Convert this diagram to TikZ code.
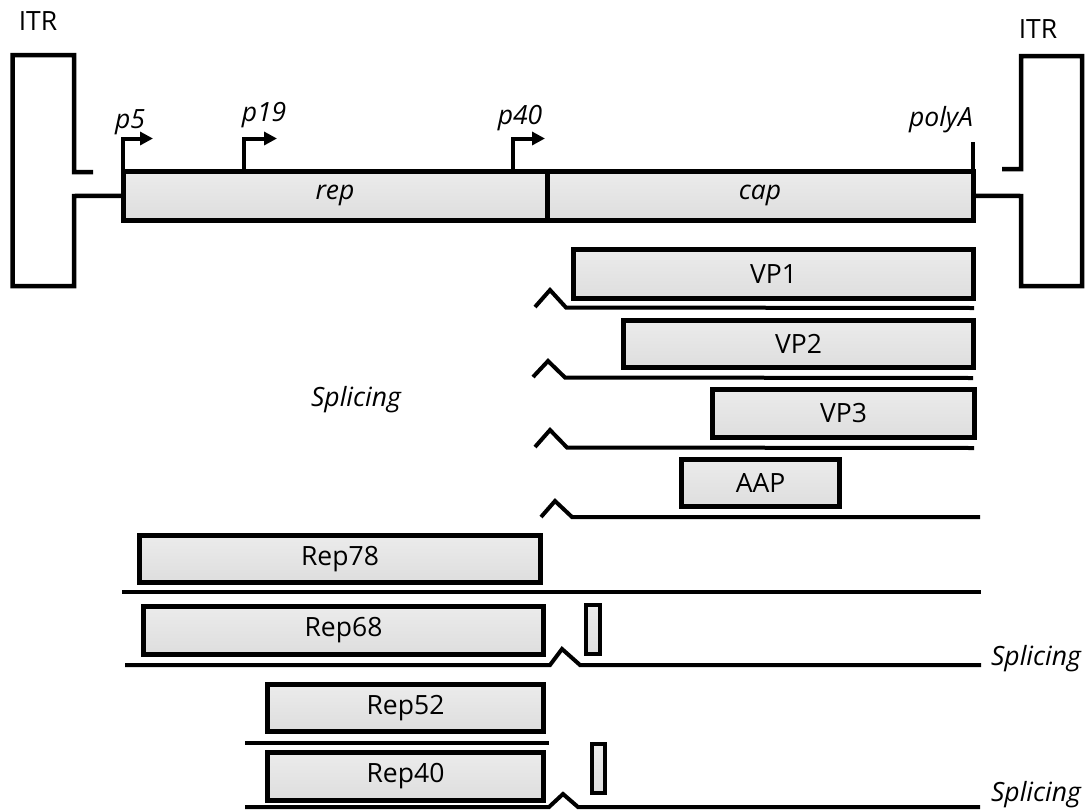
\documentclass[tikz,border=0pt]{standalone}
\usepackage{fontspec}
\setmainfont{Open Sans}
\usetikzlibrary{arrows.meta}
\pgfdeclareverticalshading{boxshade}{100bp}{color(0bp)=(black!14); color(9bp)=(black!30); color(26bp)=(black!13); color(100bp)=(black!5)}
\newcommand\fsz{\fontsize{26.5}{32}\selectfont}
\tikzset{
  gbox/.style={draw=black, line width=5pt, shading=boxshade, inner sep=0pt, outer sep=0pt, font=\fsz},
  slim/.style={draw=black, line width=4pt, shading=boxshade, inner sep=0pt, outer sep=0pt},
  ln/.style={line width=4pt, line join=miter},
  itr/.style={line width=4.5pt, line join=miter},
  prom/.style={line width=4pt, -{Triangle[length=13pt,width=13pt]}},
  lbl/.style={font=\fsz, inner sep=0pt},
  ilbl/.style={font=\fsz\itshape, inner sep=0pt},
}
\begin{document}
\begin{tikzpicture}[x=1pt,y=-1pt]
\useasboundingbox (0,0) rectangle (1090,809);
% main construct
\node[gbox, minimum width=424pt, minimum height=49.5pt, font=\fsz\itshape] (rep) at (335,195.75) {rep};
\node[gbox, minimum width=426pt, minimum height=49.5pt, font=\fsz\itshape] (cap) at (760,195.75) {cap};
% ITRs
\node[lbl] (itrL) at (38,21) {ITR};
\node[lbl] (itrR) at (1038,29) {ITR};
\draw[itr] (93,172) -- (74,172) -- (74,55) -- (12.5,55) -- (12.5,286) -- (74,286) -- (74,196) -- (rep.west);
\draw[itr] (1002,169) -- (1021,169) -- (1021,56) -- (1082,56) -- (1082,286) -- (1021,286) -- (1021,196) -- (cap.east);
% promoters
\coordinate (p5s) at (122.5,171);
\coordinate (p5e) at (153,138.5);
\coordinate (p19s) at (244,171);
\coordinate (p19e) at (277,138.5);
\coordinate (p40s) at (513,171);
\coordinate (p40e) at (545,138.5);
\coordinate (pA) at (973,142);
\draw[prom] (p5s) |- (p5e);
\draw[prom] (p19s) |- (p19e);
\draw[prom] (p40s) |- (p40e);
\draw[ln] (cap.north east) -- (pA);
\node[ilbl] (lp5) at (130,122) {p5};
\node[ilbl] (lp19) at (264,115) {p19};
\node[ilbl] (lp40) at (520,118) {p40};
\node[ilbl] (lpA) at (941,120) {polyA};
% capsid transcripts
\node[gbox, minimum width=400pt, minimum height=49pt] (vp1) at (773.5,274) {VP1};
\node[gbox, minimum width=350pt, minimum height=47pt] (vp2) at (798.5,344) {VP2};
\node[gbox, minimum width=262pt, minimum height=48pt] (vp3) at (843.5,413.5) {VP3};
\node[gbox, minimum width=158pt, minimum height=47pt] (aap) at (760.5,483) {AAP};
\coordinate (t1a) at (535,307); \coordinate (t1b) at (974,308);
\coordinate (t2a) at (533,377); \coordinate (t2b) at (973,378);
\coordinate (t3a) at (535,447); \coordinate (t3b) at (974,448);
\coordinate (t4a) at (541,517); \coordinate (t4b) at (980,517);
\draw[ln] (t1a) -- (550,290) -- (566,307.5) -- (t1b);
\draw[ln] (t2a) -- (548,361) -- (565,377.5) -- (t2b);
\draw[ln] (t3a) -- (550,430) -- (567,447.5) -- (t3b);
\draw[ln] (t4a) -- (555,501) -- (572,517) -- (t4b);
\node[ilbl] (spl1) at (356,400) {Splicing};
% rep transcripts
\node[gbox, minimum width=401pt, minimum height=47pt] (rep78) at (340,559) {Rep78};
\node[gbox, minimum width=400pt, minimum height=48pt] (rep68) at (343.5,630.5) {Rep68};
\node[slim, minimum width=14pt, minimum height=49pt] (ex68) at (593,629.5) {};
\node[gbox, minimum width=276pt, minimum height=47pt] (rep52) at (405.5,708) {Rep52};
\node[gbox, minimum width=276pt, minimum height=48pt] (rep40) at (405.5,776.5) {Rep40};
\node[slim, minimum width=13pt, minimum height=49pt] (ex40) at (598.5,768.5) {};
\coordinate (r78a) at (122,592); \coordinate (r78b) at (981,592);
\coordinate (r68a) at (125,665); \coordinate (r68b) at (981,665);
\coordinate (r52a) at (245,743); \coordinate (r52b) at (549,743);
\coordinate (r40a) at (245,807); \coordinate (r40b) at (980,807);
\draw[ln] (r78a) -- (r78b);
\draw[ln] (r68a) -- (550,665) -- (562,649) -- (580,665) -- (r68b);
\draw[ln] (r52a) -- (r52b);
\draw[ln] (r40a) -- (549,807) -- (563,794) -- (578,807) -- (r40b);
\node[ilbl] (spl2) at (1036,659) {Splicing};
\node[ilbl] (spl3) at (1036,795) {Splicing};
\end{tikzpicture}
\end{document}
